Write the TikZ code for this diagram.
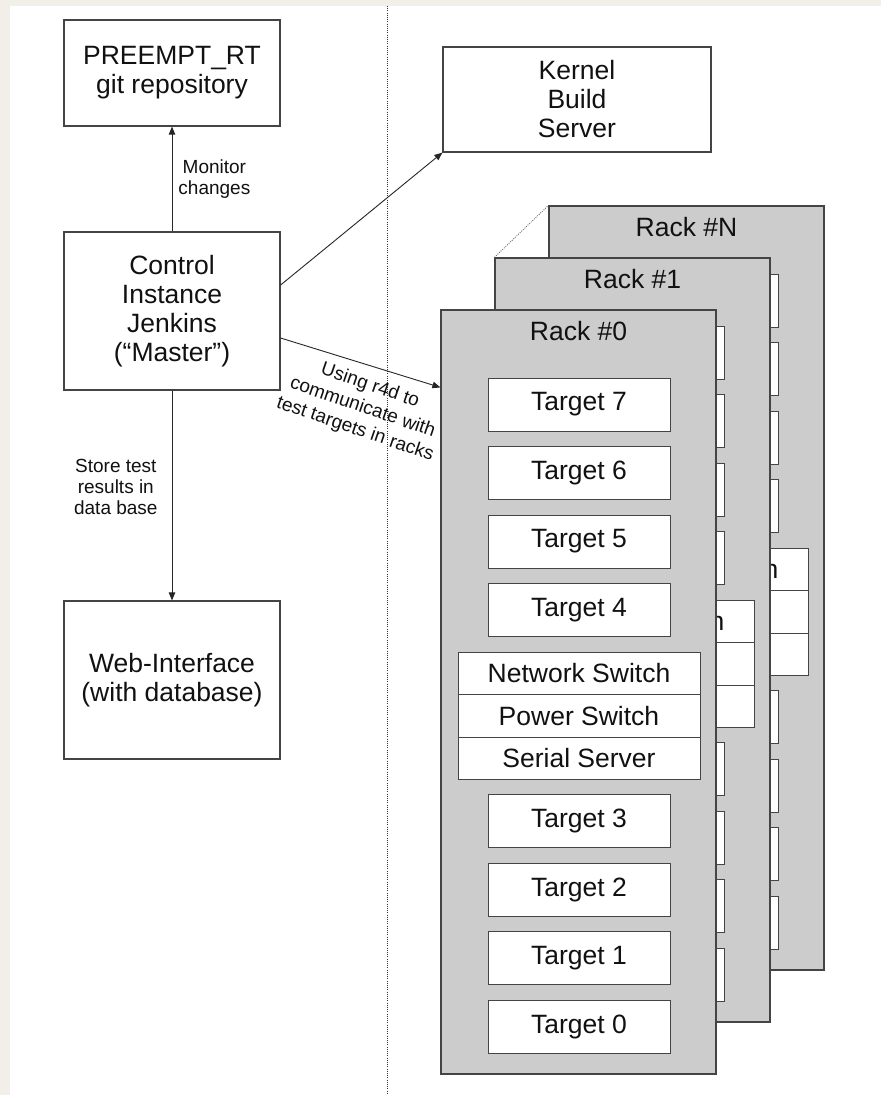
\documentclass[tikz,border=0pt]{standalone}
\usepackage{fontspec}
\setmainfont{Liberation Sans}
\usetikzlibrary{arrows.meta,calc}
\definecolor{beige}{HTML}{F2EFE8}
\definecolor{rackgray}{HTML}{CCCCCC}
\definecolor{edgec}{HTML}{444444}
\definecolor{txtc}{HTML}{111111}
\begin{document}
\begin{tikzpicture}[x=1pt,y=-1pt,
  bigfont/.style={font=\fontsize{26.5}{29}\selectfont},
  smallfont/.style={font=\fontsize{19}{21.3}\selectfont},
  box/.style={draw=edgec,line width=1.2pt,fill=white,align=center,inner sep=0pt,bigfont,text=txtc},
  rack/.style={draw=edgec,line width=1.2pt,fill=rackgray,inner sep=0pt,minimum width=275pt,minimum height=764pt},
  targetbox/.style={draw=edgec,line width=1pt,fill=white,inner sep=0pt,minimum width=182pt,minimum height=53pt,bigfont,text=txtc},
  swbox/.style={draw=edgec,line width=1pt,fill=white,inner sep=0pt,minimum width=242pt,minimum height=42.3pt,bigfont,text=txtc},
  lbl/.style={smallfont,align=center,text=txtc,inner sep=0pt},
  arr/.style={-{Triangle[length=8pt,width=6.5pt]},line width=0.9pt,draw=black!85},
  sepline/.style={line width=0.8pt,dash pattern=on 1pt off 1.2pt,draw=black!80}
]
\fill[beige] (0,0) rectangle (881,1095);
\fill[white] (10,6) rectangle (881,1095);
\useasboundingbox (0,0) rectangle (881,1095);

% separator
\coordinate (sepTop) at (387,6);
\coordinate (sepBot) at (387,1095);
\draw[sepline] (sepTop) -- (sepBot);

% left column
\node[box,minimum width=216pt,minimum height=106pt] (git) at (172,73) {PREEMPT\_RT\\git repository};
\node[box,minimum width=216pt,minimum height=158pt] (ctrl) at (172,311) {Control\\Instance\\Jenkins\\(“Master”)};
\node[box,minimum width=216pt,minimum height=158pt] (web) at (172,680) {Web-Interface\\(with database)};
\node[box,minimum width=268pt,minimum height=105pt] (kbs) at (577,99.5) {Kernel\\Build\\Server};

% back racks (contents mostly hidden)
\foreach \dx/\dy/\nm in {108/-104/N, 54/-52/1}{
  \begin{scope}[shift={(\dx,\dy)}]
    \node[rack] (rack\nm) at (578.5,692) {};
    \node[bigfont,text=txtc,inner sep=0pt] (racklabel\nm) at (578.5,331) {Rack \#\nm};
    \foreach \t/\yy in {7/404.5,6/473,5/541.5,4/610,3/821,2/889.5,1/958,0/1026.5}{
      \node[targetbox] (t\nm-\t) at (579,\yy) {};
    }
    \node[swbox] (net\nm) at (579,673.5) {Network Switch};
    \node[swbox] (pow\nm) at (579,716) {};
    \node[swbox] (ser\nm) at (579,758.3) {};
  \end{scope}
}
\draw[line width=0.8pt,dash pattern=on 1pt off 1.2pt,draw=black!60] (rack1.north west) -- (rackN.north west);

% front rack
\node[rack] (rack0) at (578.5,692) {};
\node[bigfont,text=txtc,inner sep=0pt] (racklabel0) at (578.5,331) {Rack \#0};
\foreach \t/\yy in {7/404.5,6/473,5/541.5,4/610,3/821,2/889.5,1/958,0/1026.5}{
  \node[targetbox] (t0-\t) at (579,\yy) {Target \t};
}
\node[swbox] (net0) at (579,673.5) {Network Switch};
\node[swbox] (pow0) at (579,716) {Power Switch};
\node[swbox] (ser0) at (579,758.3) {Serial Server};

% connectors
\draw[arr] (ctrl.north) -- node[lbl,right,xshift=6pt] {Monitor\\changes} (git.south);
\draw[arr] (ctrl.south) -- node[lbl,left,pos=0.46,xshift=-14pt] {Store test\\results in\\data base} (web.north);
\draw[arr] ($(ctrl.east)+(0,-26)$) -- (kbs.south west);
\coordinate (rackIn) at ($(rack0.north west)+(0,78)$);
\draw[arr] ($(ctrl.east)+(0,27)$) -- node[lbl,font=\fontsize{19}{23}\selectfont,midway,yshift=-45pt,xshift=2pt,rotate=-19] {Using r4d to\\communicate with\\test targets in racks} (rackIn);
\end{tikzpicture}
\end{document}
